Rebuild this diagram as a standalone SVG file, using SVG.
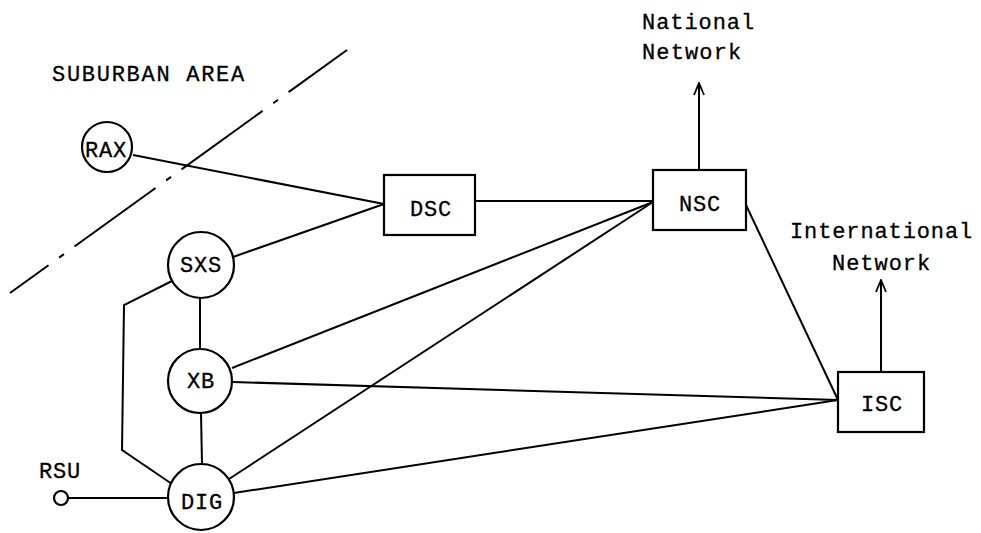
<svg xmlns="http://www.w3.org/2000/svg" width="981" height="533" viewBox="0 0 981 533">
<style>
.n{fill:#fff;stroke:#000;stroke-width:2.2}
.c{fill:none;stroke:#000;stroke-width:2}
.t{font-family:"Liberation Mono","Courier New",monospace;font-size:22px;fill:#000;stroke:#000;stroke-width:0.3;letter-spacing:0.8px}
.m{text-anchor:middle}
</style>
<defs>
<marker id="ah" viewBox="0 0 14 12" refX="13" refY="6" markerWidth="14" markerHeight="12" markerUnits="userSpaceOnUse" orient="auto">
<path d="M1 1 L13 6 L1 11" fill="none" stroke="#000" stroke-width="1.8"/>
</marker>
</defs>
<rect width="981" height="533" fill="#fff"/>
<text class="t" x="52" y="81" textLength="193">SUBURBAN AREA</text>
<line x1="347" y1="50" x2="10" y2="293" stroke="#000" stroke-width="2" stroke-dasharray="100 13 6 13" stroke-dashoffset="28"/>
<g id="connectors">
<line class="c" x1="133" y1="155" x2="384" y2="204"/>
<line class="c" x1="233" y1="257" x2="384" y2="204"/>
<line class="c" x1="475" y1="201" x2="653" y2="201"/>
<line class="c" x1="200" y1="298" x2="200" y2="348"/>
<line class="c" x1="201" y1="413" x2="202" y2="464"/>
<line class="c" x1="232" y1="368" x2="653" y2="202"/>
<line class="c" x1="229" y1="479" x2="653" y2="202"/>
<line class="c" x1="233" y1="382" x2="838" y2="400"/>
<line class="c" x1="234" y1="493" x2="838" y2="400"/>
<line class="c" x1="746" y1="205" x2="838" y2="400"/>
<polyline class="c" points="172,281 124,305 122,450 172,484"/>
<line class="c" x1="68" y1="498" x2="169" y2="498"/>
<line class="c" x1="699" y1="170" x2="699" y2="83" marker-end="url(#ah)"/>
<line class="c" x1="881" y1="372" x2="881" y2="280" marker-end="url(#ah)"/>
</g>
<g id="RAX"><circle class="n" cx="107" cy="147" r="25"/><text class="t m" x="106" y="157">RAX</text></g>
<g id="SXS"><circle class="n" cx="201" cy="265" r="33"/><text class="t m" x="201" y="272">SXS</text></g>
<g id="XB"><circle class="n" cx="200" cy="381" r="32"/><text class="t m" x="201" y="388">XB</text></g>
<g id="DIG"><circle class="n" cx="201" cy="497" r="33"/><text class="t m" x="202" y="509">DIG</text></g>
<g id="RSU"><circle class="n" cx="61" cy="498" r="7"/><text class="t m" x="60" y="478">RSU</text></g>
<g id="DSC"><rect class="n" x="384" y="175" width="91" height="60"/><text class="t m" x="431" y="216">DSC</text></g>
<g id="NSC"><rect class="n" x="653" y="170" width="93" height="60"/><text class="t m" x="700" y="211">NSC</text></g>
<g id="ISC"><rect class="n" x="838" y="372" width="86" height="60"/><text class="t m" x="882" y="411">ISC</text></g>
<g id="national"><text class="t" x="642" y="29" textLength="113">National</text><text class="t" x="642" y="59" textLength="100">Network</text></g>
<g id="international"><text class="t" x="790" y="238" textLength="183">International</text><text class="t" x="832" y="270" textLength="99">Network</text></g>
</svg>
